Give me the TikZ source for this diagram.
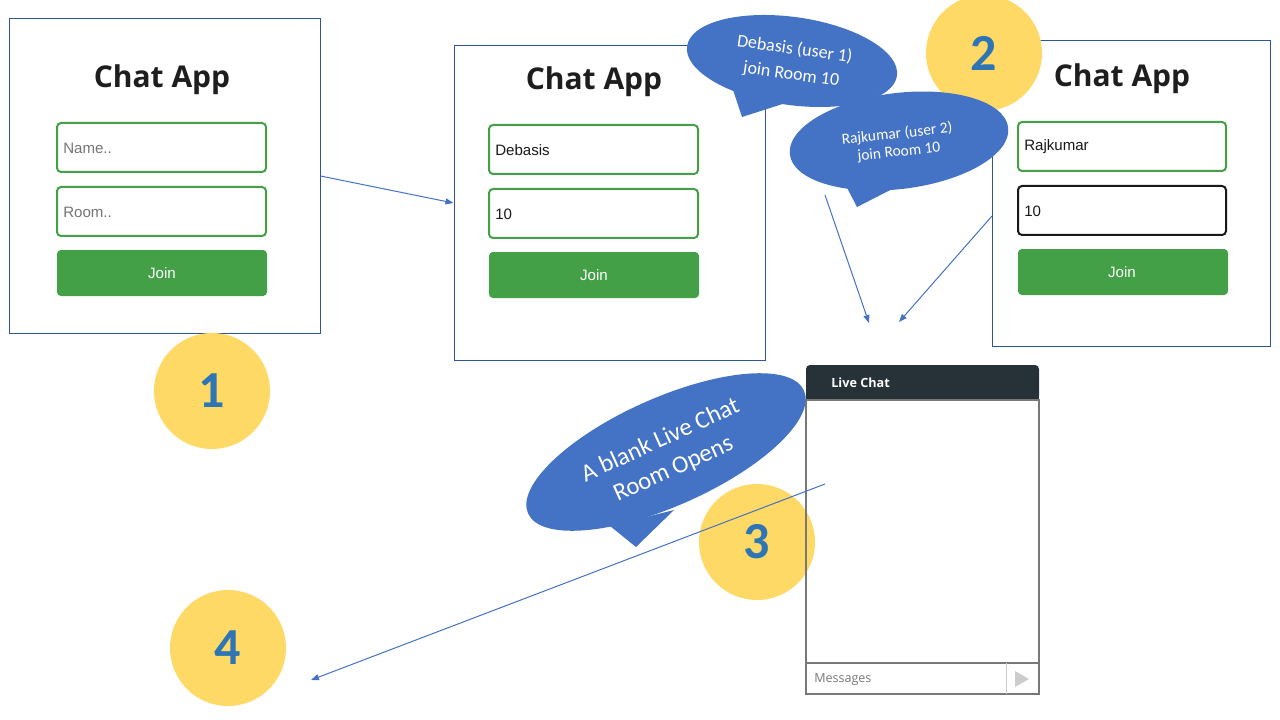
\documentclass[tikz,border=0pt]{standalone}
\usepackage{fontspec}
\setmainfont{Liberation Sans}
\newfontfamily\osans{Open Sans}
\newfontfamily\carl{Carlito}
\usetikzlibrary{arrows.meta,fit,calc}
\definecolor{panelblue}{RGB}{47,85,151}
\definecolor{fieldgreen}{RGB}{67,160,71}
\definecolor{numyellow}{RGB}{255,217,102}
\definecolor{numblue}{RGB}{46,117,182}
\definecolor{bubbleblue}{RGB}{68,114,196}
\definecolor{arrowblue}{RGB}{68,114,196}
\definecolor{darkhead}{RGB}{38,50,56}
\definecolor{phgray}{RGB}{117,117,117}
\definecolor{titleblack}{RGB}{30,30,30}
\definecolor{chatgray}{RGB}{120,120,120}
\definecolor{lightgray2}{RGB}{204,204,204}
\begin{document}
\begin{tikzpicture}[x=0.75pt,y=-0.75pt,
  panel/.style={draw=panelblue, line width=0.75pt, inner sep=0pt},
  field/.style={draw=fieldgreen, line width=1.5pt, rounded corners=3pt, inner sep=0pt},
  blackfield/.style={draw=black!90, line width=1.5pt, rounded corners=3pt, inner sep=0pt},
  btn/.style={fill=fieldgreen, rounded corners=3pt, inner sep=0pt},
  title/.style={font=\osans\bfseries\fontsize{22.5}{27}\selectfont, text=titleblack, anchor=base, inner sep=0pt},
  ph/.style={font=\fontsize{11.3}{13}\selectfont, text=phgray, anchor=west, inner sep=0pt},
  val/.style={font=\fontsize{11.3}{13}\selectfont, text=black!90, anchor=west, inner sep=0pt},
  jointext/.style={font=\fontsize{11.3}{13}\selectfont, text=white, inner sep=0pt},
  num/.style={circle, fill=numyellow, minimum size=87pt, inner sep=0pt, font=\carl\bfseries\fontsize{39}{42}\selectfont, text=numblue},
  bubtext/.style={font=\carl\fontsize{13.5}{19}\selectfont, text=white, align=center, inner sep=0pt},
  arr/.style={draw=arrowblue, line width=0.75pt, -{Triangle[length=6pt,width=4.5pt]}}
]
\useasboundingbox (0,0) rectangle (1280,720);
\fill[white] (0,0) rectangle (1280,720);

% ---------- Panel 1 ----------
\node[panel, fit={(9,19)(320,333)}] (p1) {};
\node[title] (t1) at (162,88) {Chat App};
\node[field, fit={(57,123)(266,172)}] (f1a) {};
\node[ph] (f1at) at (63,148) {Name..};
\node[field, fit={(57,187)(266,236)}] (f1b) {};
\node[ph] (f1bt) at (63,212) {Room..};
\node[btn, fit={(57,250)(267,296)}] (b1) {};
\node[jointext] (b1t) at (162,273) {Join};

% ---------- Panel 2 ----------
\node[panel, fit={(454,46)(765,360)}] (p2) {};
\node[title] (t2) at (594,90) {Chat App};
\node[field, fit={(489,125)(698,174)}] (f2a) {};
\node[val] (f2at) at (495,150) {Debasis};
\node[field, fit={(489,189)(698,238)}] (f2b) {};
\node[val] (f2bt) at (495,214) {10};
\node[btn, fit={(489,252)(699,298)}] (b2) {};
\node[jointext] (b2t) at (594,275) {Join};

% ---------- Panel 3 ----------
\node[panel, fit={(992,41)(1270,346)}] (p3) {};
\node[title] (t3) at (1122,87) {Chat App};
\node[field, fit={(1018,122)(1226,171)}] (f3a) {};
\node[val] (f3at) at (1024,147) {Rajkumar};
\node[blackfield, fit={(1018,186)(1226,235)}] (f3b) {};
\node[val] (f3bt) at (1024,211) {10};
\node[btn, fit={(1018,249)(1228,295)}] (b3) {};
\node[jointext] (b3t) at (1122,272) {Join};

% ---------- Circle 2 ----------
\node[num] (n2) at (984,53) {2};

% ---------- Bubble A ----------
\fill[bubbleblue, rotate around={-8:(792,61)}] (792,61) ellipse [x radius=106, y radius=44];
\fill[bubbleblue] (733,90) -- (742,117) -- (795,100) -- cycle;
\node[bubtext, rotate=-8] (ba) at (793,62) {Debasis (user 1)\\join Room 10};

% ---------- Bubble B ----------
\fill[bubbleblue, rotate around={7:(899,141)}] (899,141) ellipse [x radius=110, y radius=48];
\fill[bubbleblue] (843,180) -- (857,207) -- (900,185) -- cycle;
\node[bubtext, rotate=6, font=\carl\fontsize{11.6}{13.6}\selectfont] (bb) at (898,143) {Rajkumar (user 2)\\join Room 10};

% ---------- Circle 1 ----------
\node[num] (n1) at (212,391) {1};

% ---------- Live chat widget ----------
\fill[darkhead, rounded corners=3pt] (806,365) rectangle (1039,400);
\fill[darkhead] (806,385) rectangle (1039,400);
\node[inner sep=0pt, fit={(806,365)(1039,400)}] (chathead) {};
\node[font=\osans\bfseries\fontsize{9.5}{11}\selectfont, text=white, anchor=west, inner sep=0pt] (chatt) at (831,383) {Live Chat};

% ---------- Circle 3 ----------
\node[num] (n3) at (757,542) {3};

\node[draw=chatgray, line width=0.8pt, inner sep=0pt, fit={(806,400)(1039,694)}] (chatbody) {};
\draw[chatgray, line width=0.8pt] (806,663) -- (1039,663);
\draw[lightgray2, line width=0.6pt] (1006,663) -- (1006,694);
\node[font=\osans\fontsize{9.4}{11}\selectfont, text=chatgray, anchor=west, inner sep=0pt] (msg) at (814,680) {Messages};
\fill[lightgray2] (1015,671) -- (1029,679) -- (1015,687) -- cycle;

% ---------- Bubble C ----------
\fill[bubbleblue, rotate around={24:(666,452)}] (666,452) ellipse [x radius=151, y radius=54];
\fill[bubbleblue] (610,526) -- (636,547) -- (674,510) -- cycle;
\node[bubtext, rotate=24.5, font=\carl\fontsize{18.5}{23.5}\selectfont] (bc) at (667,455) {A blank Live Chat\\Room Opens};

% ---------- Circle 4 ----------
\node[num] (n4) at (228,648) {4};

% ---------- Arrows ----------
\coordinate (a2s) at (825,195);
\coordinate (a2e) at (869,323);
\coordinate (a3s) at (992,216);
\coordinate (a3e) at (899,322);
\coordinate (a4s) at (825,484);
\coordinate (a4e) at (311,680);
\draw[arr] (p1.east) -- (p2.west);
\draw[arr] (a2s) -- (a2e);
\draw[arr] (a3s) -- (a3e);
\draw[arr] (a4s) -- (a4e);
\end{tikzpicture}
\end{document}
